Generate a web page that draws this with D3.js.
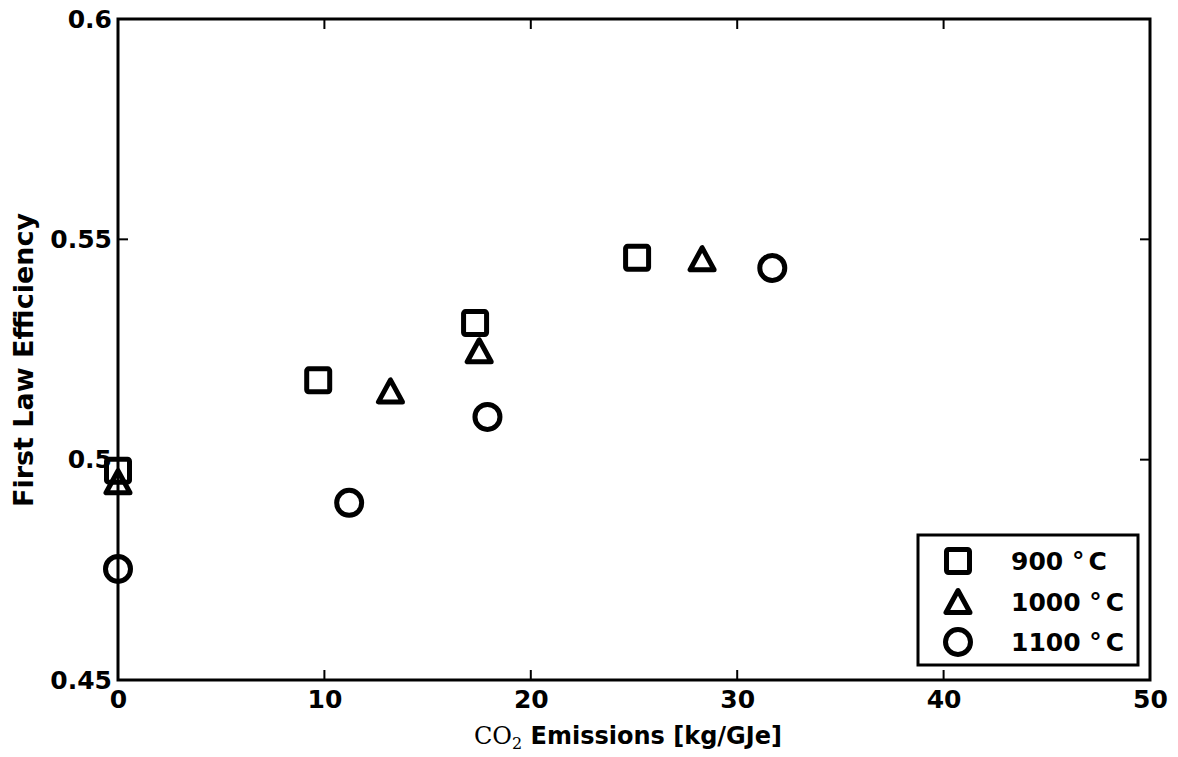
<!DOCTYPE html>
<html>
<head>
<meta charset="utf-8">
<script src="https://cdn.jsdelivr.net/npm/d3@7"></script>
<style>
  body { margin: 0; background: #fff; }
  svg { display: block; }
  text { font-family: "DejaVu Sans", sans-serif; fill: #000; }
</style>
</head>
<body>
<svg id="chart" width="1178" height="757"></svg>
<script>
// Emissions (kg/GJe) and first-law efficiency for each reforming temperature
const series900x  = [0, 9.7, 17.3, 25.15];
const series900y  = [0.4975, 0.518, 0.531, 0.5458];
const series1000x = [0, 13.2, 17.5, 28.3];
const series1000y = [0.495, 0.5156, 0.5247, 0.5456];
const series1100x = [0, 11.2, 17.9, 31.7];
const series1100y = [0.4752, 0.4902, 0.5097, 0.5435];
const seriesNames = ["900", "1000", "1100"];
const seriesShapes = ["square", "triangle", "circle"];
const xTicks = [0, 10, 20, 30, 40, 50];
const yTicks = [0.45, 0.5, 0.55, 0.6];
const yTickLabels = ["0.45", "0.5", "0.55", "0.6"];

const svg = d3.select("#chart");
const plotLeft = 118, plotRight = 1150, plotTop = 19, plotBottom = 680;

const x = d3.scaleLinear().domain([0, 50]).range([plotLeft, plotRight]);
const y = d3.scaleLinear().domain([0.45, 0.6]).range([plotBottom, plotTop]);

// Inward ticks on all four sides
const tickLen = 10;
const g = svg.append("g");
xTicks.forEach(t => {
  g.append("line").attr("x1", x(t)).attr("x2", x(t)).attr("y1", plotBottom).attr("y2", plotBottom - tickLen)
    .attr("stroke", "#000").attr("stroke-width", 2);
  g.append("line").attr("x1", x(t)).attr("x2", x(t)).attr("y1", plotTop).attr("y2", plotTop + tickLen)
    .attr("stroke", "#000").attr("stroke-width", 2);
});
yTicks.forEach(t => {
  g.append("line").attr("x1", plotLeft).attr("x2", plotLeft + tickLen).attr("y1", y(t)).attr("y2", y(t))
    .attr("stroke", "#000").attr("stroke-width", 2);
  g.append("line").attr("x1", plotRight).attr("x2", plotRight - tickLen).attr("y1", y(t)).attr("y2", y(t))
    .attr("stroke", "#000").attr("stroke-width", 2);
});

// Tick labels
const xAxis = d3.axisBottom(x).tickValues(xTicks).tickSize(0).tickPadding(10).tickFormat(d3.format("d"));
const xg = svg.append("g").attr("transform", `translate(0,${plotBottom})`).call(xAxis);
xg.select(".domain").remove();
xg.selectAll("text").attr("font-size", 25).attr("font-weight", "bold")
  .attr("font-family", "DejaVu Sans, sans-serif").attr("fill", "#000");

const yAxis = d3.axisLeft(y).tickValues(yTicks).tickSize(0).tickPadding(6)
  .tickFormat((d, i) => yTickLabels[i]);
const yg = svg.append("g").attr("transform", `translate(${plotLeft},0)`).call(yAxis);
yg.select(".domain").remove();
yg.selectAll("text").attr("font-size", 25).attr("font-weight", "bold")
  .attr("font-family", "DejaVu Sans, sans-serif").attr("fill", "#000");

// Markers
function drawMarker(sel, shape, cx, cy) {
  if (shape === "square") {
    sel.append("rect").attr("x", cx - 11.5).attr("y", cy - 11.5)
      .attr("width", 23).attr("height", 23).attr("rx", 2)
      .attr("fill", "none").attr("stroke", "#000").attr("stroke-width", 5);
  } else if (shape === "triangle") {
    const h = 22, w = 24;
    const pts = [[cx, cy - h / 2], [cx - w / 2, cy + h / 2], [cx + w / 2, cy + h / 2]];
    sel.append("polygon").attr("points", pts.map(p => p.join(",")).join(" "))
      .attr("fill", "none").attr("stroke", "#000").attr("stroke-width", 5)
      .attr("stroke-linejoin", "round");
  } else {
    sel.append("circle").attr("cx", cx).attr("cy", cy).attr("r", 12.5)
      .attr("fill", "none").attr("stroke", "#000").attr("stroke-width", 5);
  }
}

const allSeries = [
  { xs: series900x, ys: series900y },
  { xs: series1000x, ys: series1000y },
  { xs: series1100x, ys: series1100y }
];
const marks = svg.append("g");
allSeries.forEach((s, i) => {
  s.xs.forEach((xv, j) => drawMarker(marks, seriesShapes[i], x(xv), y(s.ys[j])));
});

// Frame
svg.append("rect").attr("x", plotLeft).attr("y", plotTop)
  .attr("width", plotRight - plotLeft).attr("height", plotBottom - plotTop)
  .attr("fill", "none").attr("stroke", "#000").attr("stroke-width", 3);

// Legend
const lg = svg.append("g");
lg.append("rect").attr("x", 918).attr("y", 535).attr("width", 220).attr("height", 130)
  .attr("fill", "#fff").attr("stroke", "#000").attr("stroke-width", 3);
seriesNames.forEach((name, i) => {
  const cy = 561 + i * 40.5;
  drawMarker(lg, seriesShapes[i], 958, cy);
  const t = lg.append("text").attr("x", 1011).attr("y", cy).attr("dy", "0.36em")
    .attr("font-size", 25).attr("font-weight", "bold");
  t.append("tspan").text(name + " °");
  t.append("tspan").attr("dx", 4).text("C");
});

// Axis titles
const xl = svg.append("text").attr("x", 628).attr("y", 744).attr("text-anchor", "middle")
  .attr("font-size", 24).attr("font-weight", "bold");
xl.append("tspan").attr("font-family", "DejaVu Serif, serif").attr("font-weight", "normal").text("CO");
xl.append("tspan").attr("font-family", "DejaVu Serif, serif").attr("font-weight", "normal")
  .attr("font-size", 16).attr("dy", 5).text("2");
xl.append("tspan").attr("dy", -5).text(" Emissions [kg/GJe]");

svg.append("text").attr("transform", "translate(33,360) rotate(-90)")
  .attr("text-anchor", "middle").attr("font-size", 27).attr("font-weight", "bold")
  .text("First Law Efficiency");
</script>
</body>
</html>
